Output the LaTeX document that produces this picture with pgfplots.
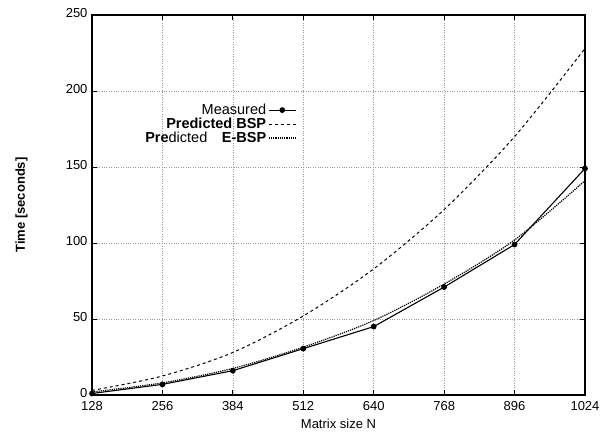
\documentclass[border=0pt]{standalone}
\usepackage{pgfplots}
\pgfplotsset{compat=1.18}
\usepackage{fontspec}
\setmainfont{Liberation Sans}
\begin{document}
\begin{tikzpicture}
\begin{axis}[
  scale only axis,
  width=493pt, height=380pt,
  xmin=128, xmax=1024, ymin=0, ymax=250,
  xtick={128,256,384,512,640,768,896,1024},
  ytick={0,50,100,150,200,250},
  tick align=inside,
  major tick length=5pt,
  axis line style={line width=1.4pt},
  every tick/.style={black, line width=0.8pt},
  grid=major,
  grid style={dotted, gray!80, line width=0.5pt},
  /pgf/number format/assume math mode=true,
  /pgf/number format/1000 sep={},
  scaled ticks=false,
  tick label style={font=\fontsize{13}{15}\selectfont},
  xticklabel style={yshift=-3pt},
  yticklabel style={xshift=-1pt, yshift=2pt},
  xlabel={Matrix size N},
  ylabel={\textbf{Time [seconds]}},
  label style={font=\fontsize{13}{15}\selectfont},
  xlabel style={at={(rel axis cs:0.5,0)}, yshift=-29pt, anchor=center},
  ylabel style={at={(rel axis cs:-0.143,0.5)}, anchor=center},
  legend cell align=right,
  legend plot pos=right,
  legend style={draw=none, fill=none, at={(rel axis cs:0.417,0.774)}, anchor=north east,
    font=\fontsize{14.5}{16}\selectfont, row sep=-2pt, inner sep=1pt},
  legend image code/.code={
    \draw[#1] (0pt,0pt) -- (27pt,0pt);
    \draw[#1, only marks] plot coordinates {(13.5pt,0pt)};
  },
]
\coordinate (sw) at (rel axis cs:0,0);
\addplot[black, line width=1.1pt, mark=*, mark size=2.3pt] coordinates {
  (128,1) (256,7) (384,16) (512,30.5) (640,45) (768,71) (896,99) (1024,149)
};
\addlegendentry{Measured}
\addplot[black, dashed, line width=1pt, smooth, mark=none] coordinates {
  (128,3) (256,12.5) (384,28) (512,52) (640,83) (768,122) (896,170) (1024,228)
};
\addlegendentry{\textbf{Predicted BSP}}
\addplot[black, densely dotted, line width=1.2pt, smooth, mark=none] coordinates {
  (128,2) (256,8) (384,17.5) (512,31.5) (640,49) (768,73) (896,102) (1024,141)
};
\addlegendentry{\textbf{Pre}dicted\quad\textbf{E-BSP}}
\end{axis}
\pgfresetboundingbox
\path[use as bounding box] ([xshift=-92pt,yshift=-37pt]sw) rectangle ++(603pt,432pt);
\end{tikzpicture}
\end{document}
